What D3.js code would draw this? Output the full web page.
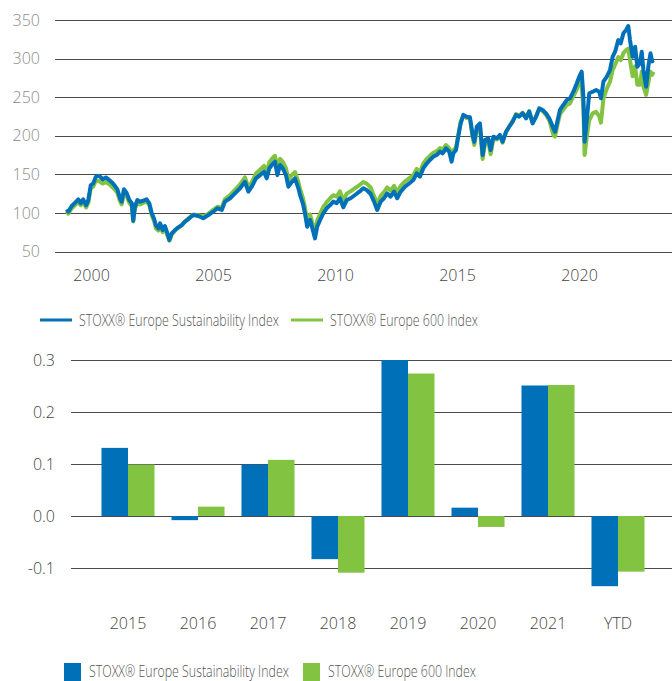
<!DOCTYPE html>
<html>
<head>
<meta charset="utf-8">
<script src="https://cdn.jsdelivr.net/npm/d3@7"></script>
<style>
  body { margin: 0; background: #fff; }
  svg { display: block; font-family: "Open Sans", sans-serif; }
</style>
</head>
<body>
<svg id="chart" width="672" height="681"></svg>
<script>
// ---- line chart data (index level) ----
var years = [1999.00,1999.07,1999.21,1999.34,1999.48,1999.58,1999.68,1999.80,1999.89,1999.99,2000.09,2000.20,2000.34,2000.48,2000.61,2000.75,2000.89,2000.98,2001.08,2001.19,2001.26,2001.35,2001.46,2001.57,2001.67,2001.73,2001.80,2001.90,2002.01,2002.14,2002.28,2002.39,2002.49,2002.58,2002.66,2002.76,2002.83,2002.94,2003.03,2003.13,2003.21,2003.31,2003.44,2003.58,2003.72,2003.85,2004.03,
  2004.19,2004.40,2004.60,2004.81,2005.01,2005.18,2005.36,2005.49,2005.70,2005.90,2006.11,2006.31,2006.45,2006.59,2006.76,2006.93,2007.09,2007.20,2007.31,2007.47,2007.54,2007.64,2007.75,2007.86,2007.99,2008.09,2008.23,2008.36,2008.50,
  2008.57,2008.68,2008.77,2008.86,2008.98,2009.09,2009.18,2009.27,2009.39,2009.52,2009.66,2009.80,2009.93,2010.07,2010.20,2010.34,2010.48,2010.64,2010.82,2011.00,2011.16,2011.30,2011.46,2011.60,2011.73,2011.87,2012.01,2012.14,2012.28,2012.42,2012.55,2012.69,2012.87,2013.05,2013.21,2013.35,2013.48,
  2013.62,2013.76,2013.89,2014.03,2014.17,2014.30,2014.41,2014.55,2014.68,2014.78,2014.85,2014.96,2015.05,2015.15,2015.26,2015.40,2015.53,2015.64,2015.71,2015.81,2015.94,2016.05,2016.15,2016.28,2016.38,2016.49,2016.63,2016.76,2016.87,2017.01,2017.14,2017.28,2017.42,2017.55,2017.69,2017.83,2017.96,2018.10,2018.24,2018.37,2018.51,2018.65,2018.78,
  2018.81,2018.95,2019.02,2019.11,2019.22,2019.36,2019.50,2019.63,2019.77,2019.91,2020.01,2020.11,2020.18,2020.23,2020.32,2020.42,2020.56,2020.70,2020.83,2020.90,2021.00,2021.14,2021.27,2021.38,2021.48,2021.61,2021.71,2021.82,2021.93,2022.02,2022.09,2022.20,2022.30,2022.39,2022.50,2022.57,2022.64,2022.75,2022.85,2022.93,2023.00,2023.05];

var sustainability = [104.7,101.6,109,113,117.6,112.5,117.6,110,116.7,136,138,147,148,143.6,146,142.6,138.4,135,130.6,119,114.6,130.6,126,116.7,112.5,90,108,116.7,114.6,115.8,117.6,112.5,99.5,93,84,80,86.5,77.8,83,73.5,64.9,73.5,77.8,81.3,84.3,88.6,93,
  97.3,96,93,97.3,101.6,106,103.8,114.6,119,125.4,131.9,140.4,127.5,134,144.8,149,153.4,144.8,157.8,164.3,166.4,149,162.1,157.8,149,134,140.4,144.8,131.9,
  123,112.5,99.5,82.2,91,77.8,67,82.2,91,99.5,106,110.2,114.6,112.5,119,107.3,116.7,119,123.2,127.5,131.9,129.7,124.5,114.6,103.8,114.6,119,125.4,121,127.5,119,127.5,134,138.4,142.6,151.3,147,
  158,164,168.6,172.9,175,179.4,177.2,183.7,179.4,166.4,177.2,181.5,198.8,216,227,224.7,224,201,192.3,211.7,216,175,194.5,196.7,181.5,198.8,196.7,201,192.3,205.2,211.7,218.2,227,224.7,229,222.6,231.2,216,224.7,235.5,233.4,229,222.6,
  220.4,209.6,205.2,218.2,233.4,239.9,246.3,248.5,257.1,268,276.5,283,250.6,192.3,220.4,255,257.1,259.3,257.1,248.5,270,276.5,285.2,302.4,308.9,324,319.8,332.8,337,342.2,324,302.4,315.4,289.5,293.9,308.9,285.2,263.6,291.7,306.8,296.4,298.2];

var europe600 = [102,99,106,110,114,110,114,107,113,132,134,142,141,138,140,137,133,130,126,115,111,126,122,113,109,89,105,113,111,113,115,110,97,90,80,77,84,75,81,71,64,72,77,81,84,89,94,
  98,97,95,99,104,108,107,118,123,130,137,146,133,140,151,156,161,153,166,172,174,158,170,166,158,143,149,153,140,
  131,120,107,89,98,85,74,90,99,108,114,119,123,121,128,116,125,128,132,136,140,138,133,122,112,122,127,133,129,135,127,135,141,145,149,157,153,
  164,170,174,178,180,184,182,188,184,171,181,185,201,218,226,223,222,198,188,208,213,170,190,193,176,196,195,200,191,205,212,219,228,226,230,224,232,217,225,235,232,227,220,
  217,201,199,213,228,234,240,242,251,260,270,264,235,175,199,220,229,231,225,217,248,261,270,285,292,302,298,307,311,313,298,277,290,266,266,283,264,253,270,283,279,283];

var lineYTicks = [50, 100, 150, 200, 250, 300, 350];
var lineXTicks = [2000, 2005, 2010, 2015, 2020];

// ---- bar chart data (annual return) ----
var barCategories = ["2015", "2016", "2017", "2018", "2019", "2020", "2021", "YTD"];
var barSustain = [0.131, -0.008, 0.099, -0.083, 0.300, 0.016, 0.251, -0.135];
var barStoxx = [0.099, 0.018, 0.108, -0.109, 0.274, -0.021, 0.252, -0.107];
var barYTicks = [-0.1, 0.0, 0.1, 0.2, 0.3];

var seriesNames = ["STOXX® Europe Sustainability Index", "STOXX® Europe 600 Index"];
var blue = "#0071b9", green = "#82c341";

var svg = d3.select("#chart");

function styleTicks(sel, color) {
  sel.select(".domain").remove();
  sel.selectAll("text")
    .style("font-size", "16px")
    .style("font-weight", "300")
    .style("font-family", "Open Sans")
    .attr("fill", color);
}

// legend text is narrower in the original, squeeze it horizontally
var legendWidths = [200, 148];
function legendText(parent, x0, yBase, i) {
  var g = parent.append("g");
  var t = g.append("text")
    .attr("x", 0)
    .attr("y", 0)
    .style("font-size", "16px")
    .style("font-weight", "300")
    .attr("fill", "#555")
    .text(seriesNames[i]);
  var k = legendWidths[i] / t.node().getComputedTextLength();
  g.attr("transform", "translate(" + x0 + "," + yBase + ") scale(" + k + ",1)");
}

// ================= line chart =================
var x = d3.scaleLinear().domain([1999, 2024]).range([66.6, 676.6]);
var y = d3.scaleLinear().domain([50, 350]).range([251.5, 20]);

var gTop = svg.append("g");

// gridlines
gTop.append("g")
  .selectAll("line")
  .data(lineYTicks)
  .enter()
  .append("line")
  .attr("x1", 55)
  .attr("x2", 672)
  .attr("y1", d => Math.round(y(d)) + 0.5)
  .attr("y2", d => Math.round(y(d)) + 0.5)
  .attr("stroke", "#4a4a4a")
  .attr("stroke-width", 1);

// y axis labels
var yAxisTop = gTop.append("g")
  .attr("transform", "translate(55,0)")
  .call(d3.axisLeft(y).tickValues(lineYTicks).tickSize(0).tickPadding(15));
styleTicks(yAxisTop, "#8c8c8c");

// x axis labels
var xAxisTop = gTop.append("g")
  .attr("transform", "translate(0,251.5)")
  .call(d3.axisBottom(x).tickValues(lineXTicks).tickFormat(d3.format("d")).tickSize(0).tickPadding(18));
styleTicks(xAxisTop, "#444");

var line = d3.line()
  .x(function (d, i) { return x(years[i]); })
  .y(function (d) { return y(d); });

// green first so the blue one sits on top
gTop.append("path")
  .datum(europe600)
  .attr("d", line)
  .attr("fill", "none")
  .attr("stroke", green)
  .attr("stroke-width", 4)
  .attr("stroke-linejoin", "round");

gTop.append("path")
  .datum(sustainability)
  .attr("d", line)
  .attr("fill", "none")
  .attr("stroke", blue)
  .attr("stroke-width", 4)
  .attr("stroke-linejoin", "round");

// legend (lines)
var legTop = gTop.append("g");
var legTopX = [40, 291];
[blue, green].forEach(function (c, i) {
  legTop.append("line")
    .attr("x1", legTopX[i]).attr("x2", legTopX[i] + 32)
    .attr("y1", 320).attr("y2", 320)
    .attr("stroke", c).attr("stroke-width", 3);
  legendText(legTop, legTopX[i] + 39, 326, i);
});

// ================= bar chart =================
var xb = d3.scaleBand().domain(barCategories).range([93, 653]).paddingInner(0).paddingOuter(0);
var xSub = d3.scaleBand().domain([0, 1]).range([0, xb.bandwidth()]).paddingInner(0).paddingOuter(0.32);
var yb = d3.scaleLinear().domain([-0.1, 0.3]).range([568, 360]);

var gBottom = svg.append("g");

gBottom.append("g")
  .selectAll("line")
  .data(barYTicks)
  .enter()
  .append("line")
  .attr("x1", 71)
  .attr("x2", 672)
  .attr("y1", d => Math.round(yb(d)) + 0.5)
  .attr("y2", d => Math.round(yb(d)) + 0.5)
  .attr("stroke", "#4a4a4a")
  .attr("stroke-width", 1);

var yAxisBot = gBottom.append("g")
  .attr("transform", "translate(71,0)")
  .call(d3.axisLeft(yb).tickValues(barYTicks).tickFormat(d => d.toFixed(1)).tickSize(0).tickPadding(16));
styleTicks(yAxisBot, "#444");

var xAxisBot = gBottom.append("g")
  .attr("transform", "translate(0,604)")
  .call(d3.axisBottom(xb).tickSize(0).tickPadding(14));
styleTicks(xAxisBot, "#444");

var barSeries = [barSustain, barStoxx];
barSeries.forEach(function (vals, s) {
  gBottom.append("g")
    .selectAll("rect")
    .data(vals)
    .enter()
    .append("rect")
    .attr("x", (d, i) => xb(barCategories[i]) + xSub(s))
    .attr("width", xSub.bandwidth())
    .attr("y", d => yb(Math.max(0, d)))
    .attr("height", d => Math.abs(yb(d) - yb(0)))
    .attr("fill", s === 0 ? blue : green);
});

// legend (squares)
var legBot = gBottom.append("g");
var legBotX = [64, 303];
[blue, green].forEach(function (c, i) {
  legBot.append("rect")
    .attr("x", legBotX[i]).attr("y", 663)
    .attr("width", 17).attr("height", 18)
    .attr("fill", c);
  legendText(legBot, legBotX[i] + 25, 677, i);
});
</script>
</body>
</html>
